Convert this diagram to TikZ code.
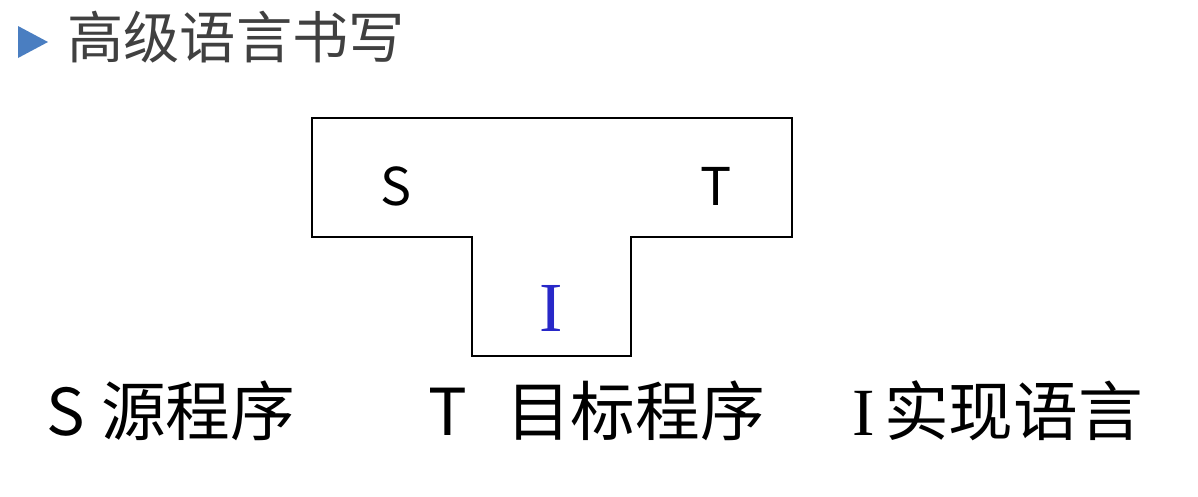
\documentclass[tikz,border=0pt]{standalone}
\usepackage{fontspec}
\newfontfamily\cjk{Noto Sans CJK SC}
\newfontfamily\serifI{Liberation Serif}
\definecolor{titleblue}{RGB}{74,126,193}
\definecolor{titlegray}{RGB}{64,64,64}
\definecolor{implblue}{RGB}{40,40,200}
\tikzset{
  txt/.style={inner sep=0pt, anchor=base},
  big/.style={txt, font=\cjk\fontsize{46}{50}\selectfont},
}
\begin{document}
\begin{tikzpicture}[x=0.025cm, y=-0.025cm]
      \useasboundingbox (0,0) rectangle (1198,496);
      \fill[titleblue] (18,26) -- (48,42) -- (18,58) -- cycle;
      \node[txt, anchor=base west, text=titlegray, font=\cjk\fontsize{40}{44}\selectfont]
        (title) at (67,58) {高级语言书写};
      \draw[line width=1pt]
        (312,118) coordinate (a)
        -- (792,118) coordinate (b)
        -- (792,237) coordinate (c)
        -- (631,237) coordinate (d)
        -- (631,356) coordinate (e)
        -- (472,356) coordinate (f)
        -- (472,237) coordinate (g)
        -- (312,237) coordinate (h)
        -- cycle;
      \draw
        (396,205) node[txt, font=\cjk\fontsize{37}{40}\selectfont] (S){S}
        (716,205) node[txt, font=\cjk\fontsize{37}{40}\selectfont] (T){T}
        (551,331) node[txt, text=implblue, font=\serifI\fontsize{50}{54}\selectfont] (I){I};
      \begin{scope}[every node/.style={big, anchor=base west}]
        \draw
          (46,435) node (srcS){S}
          (101,435) node (src){源程序}
          (428,435) node (tgtT){T}
          (506,435) node (tgt){目标程序}
          (852,435) node[font=\serifI\fontsize{48}{52}\selectfont] (implI){I}
          (884,435) node (impl){实现语言};
      \end{scope}
    \end{tikzpicture}
\end{document}
